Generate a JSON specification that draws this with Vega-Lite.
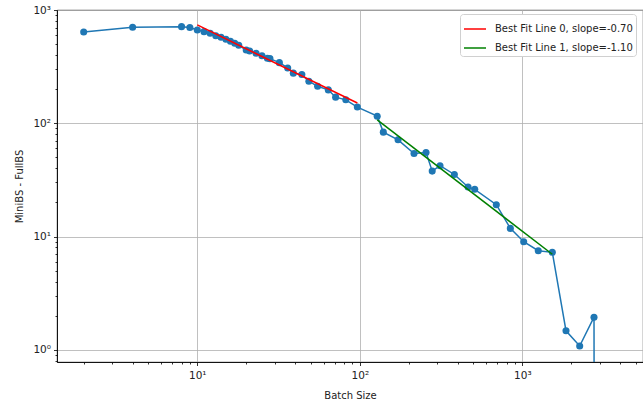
{
  "$schema": "https://vega.github.io/schema/vega-lite/v6.json",
  "width": 586,
  "height": 352,
  "autosize": {"type": "none"},
  "padding": {"left": 57, "top": 10, "right": 0, "bottom": 43},
  "background": "white",
  "config": {
    "font": "DejaVu Sans",
    "view": {"stroke": "black", "strokeWidth": 0.8},
    "axis": {
      "labelFont": "DejaVu Sans",
      "titleFont": "DejaVu Sans",
      "labelFontSize": 10.5,
      "titleFontSize": 10,
      "titleFontWeight": "normal",
      "labelColor": "#222",
      "titleColor": "#222",
      "domainColor": "black",
      "domainWidth": 0.8,
      "tickColor": "black",
      "tickWidth": 0.8,
      "gridColor": "#b0b0b0",
      "gridWidth": 0.8,
      "labelOverlap": false,
      "labelFlush": false
    }
  },
  "datasets": {
    "main": [
      {"x": 2, "y": 640}, {"x": 4, "y": 703}, {"x": 8, "y": 713}, {"x": 9, "y": 700},
      {"x": 10, "y": 667}, {"x": 11, "y": 644}, {"x": 12, "y": 623}, {"x": 13, "y": 593},
      {"x": 14, "y": 574}, {"x": 15, "y": 552}, {"x": 16, "y": 530}, {"x": 17, "y": 508},
      {"x": 18, "y": 488}, {"x": 20, "y": 444}, {"x": 21, "y": 435}, {"x": 23, "y": 415},
      {"x": 25, "y": 395}, {"x": 27, "y": 375}, {"x": 28, "y": 372}, {"x": 32, "y": 343},
      {"x": 36, "y": 308}, {"x": 39, "y": 277}, {"x": 44, "y": 269}, {"x": 48.6, "y": 235},
      {"x": 55, "y": 212}, {"x": 64, "y": 197}, {"x": 71, "y": 170}, {"x": 82, "y": 161},
      {"x": 96.6, "y": 139}, {"x": 128, "y": 115.5}, {"x": 139.6, "y": 83.5}, {"x": 172, "y": 71.4},
      {"x": 215.6, "y": 54.1}, {"x": 255.6, "y": 55.2}, {"x": 279, "y": 37.8}, {"x": 311.6, "y": 42.2},
      {"x": 381.8, "y": 35.3}, {"x": 463.6, "y": 27.4}, {"x": 509.6, "y": 26.1}, {"x": 692, "y": 19.1},
      {"x": 844, "y": 11.8}, {"x": 1020, "y": 9.0}, {"x": 1254, "y": 7.5}, {"x": 1530, "y": 7.25},
      {"x": 1858, "y": 1.47}, {"x": 2255, "y": 1.08}, {"x": 2762, "y": 1.94}, {"x": 3000, "y": 1e-30}
    ],
    "fits": [
      {"series": "Best Fit Line 0, slope=-0.70", "x": 10, "y": 738},
      {"series": "Best Fit Line 0, slope=-0.70", "x": 96.6, "y": 151},
      {"series": "Best Fit Line 1, slope=-1.10", "x": 128, "y": 107},
      {"series": "Best Fit Line 1, slope=-1.10", "x": 1530, "y": 6.97}
    ]
  },
  "layer": [
    {
      "data": {"name": "main"},
      "mark": {"type": "line", "color": "#1f77b4", "strokeWidth": 1.5, "clip": true},
      "encoding": {
        "x": {
          "field": "x", "type": "quantitative", "title": "Batch Size",
          "scale": {"type": "log", "domain": [1.37, 5530], "nice": false},
          "axis": {
            "values": [2,3,4,5,6,7,8,9,10,20,30,40,50,60,70,80,90,100,200,300,400,500,600,700,800,900,1000,2000,3000,4000,5000],
            "labelExpr": "datum.value == 10 ? '10¹' : datum.value == 100 ? '10²' : datum.value == 1000 ? '10³' : ''",
            "gridOpacity": {"condition": {"test": "datum.value == 10 || datum.value == 100 || datum.value == 1000", "value": 1}, "value": 0},
            "tickSize": {"condition": {"test": "datum.value == 10 || datum.value == 100 || datum.value == 1000", "value": 3.5}, "value": 2},
            "labelPadding": 5,
            "titlePadding": 9
          }
        },
        "y": {
          "field": "y", "type": "quantitative", "title": "MiniBS - FullBS",
          "scale": {"type": "log", "domain": [0.78, 1000], "nice": false},
          "axis": {
            "values": [0.8,0.9,1,2,3,4,5,6,7,8,9,10,20,30,40,50,60,70,80,90,100,200,300,400,500,600,700,800,900,1000],
            "labelExpr": "datum.value == 1 ? '10⁰' : datum.value == 10 ? '10¹' : datum.value == 100 ? '10²' : datum.value == 1000 ? '10³' : ''",
            "gridOpacity": {"condition": {"test": "datum.value == 1 || datum.value == 10 || datum.value == 100 || datum.value == 1000", "value": 1}, "value": 0},
            "tickSize": {"condition": {"test": "datum.value == 1 || datum.value == 10 || datum.value == 100 || datum.value == 1000", "value": 3.5}, "value": 2},
            "labelPadding": 3,
            "titlePadding": 8
          }
        }
      }
    },
    {
      "data": {"name": "main"},
      "mark": {"type": "point", "filled": true, "opacity": 1, "color": "#1f77b4", "size": 50, "clip": true},
      "encoding": {
        "x": {"field": "x", "type": "quantitative"},
        "y": {"field": "y", "type": "quantitative"}
      }
    },
    {
      "data": {"name": "fits"},
      "mark": {"type": "line", "strokeWidth": 1.5, "clip": true},
      "encoding": {
        "x": {"field": "x", "type": "quantitative"},
        "y": {"field": "y", "type": "quantitative"},
        "color": {
          "field": "series", "type": "nominal",
          "scale": {"domain": ["Best Fit Line 0, slope=-0.70", "Best Fit Line 1, slope=-1.10"], "range": ["red", "green"]},
          "legend": {
            "title": null,
            "orient": "none",
            "legendX": 403,
            "legendY": 4,
            "symbolType": "stroke",
            "symbolSize": 484,
            "symbolStrokeWidth": 1.5,
            "labelFontSize": 10,
            "labelColor": "#222",
            "labelOffset": 8,
            "fillColor": "white",
            "strokeColor": "#d0d0d0",
            "cornerRadius": 3,
            "padding": 3,
            "rowPadding": 2
          }
        }
      }
    }
  ]
}
